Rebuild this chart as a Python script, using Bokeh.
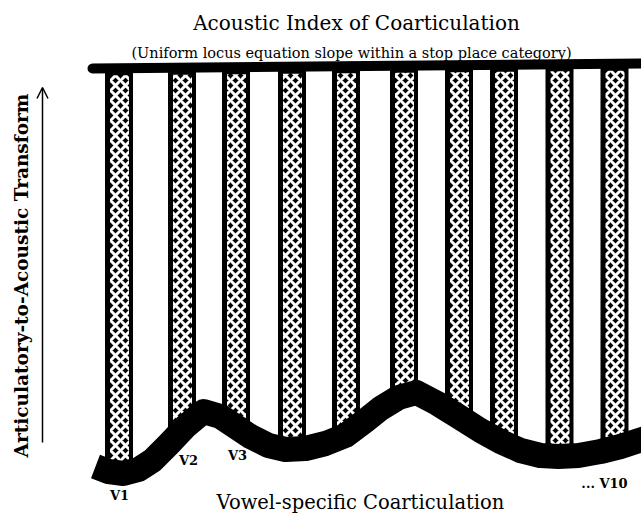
import numpy as np
from bokeh.plotting import figure
from bokeh.models import Range1d, Label, Arrow, OpenHead
from bokeh.embed import file_html
from bokeh.resources import INLINE

# ---- data (diagram coordinates, page pixels) ----
vowel_x = [118.5, 181.5, 235.5, 291.5, 345.5, 403.5, 458.5, 503.5, 559.0, 614.0]
vowel_labels = ["V1", "V2", "V3", "... V10"]
label_x = [119, 188, 237, 604]
label_y = [495, 460, 455, 483]

curve_x = [95, 108, 123, 138, 152, 168, 185, 203, 220, 235, 250, 268, 285, 305, 325,
           345, 365, 380, 398, 416, 437, 458, 480, 500, 520, 540, 558, 578, 600, 620, 645]
curve_y = [466, 471, 473, 469, 460, 444, 426, 411, 416, 426, 436, 445, 449, 448, 443,
           435, 420, 408, 397, 392, 403, 416, 430, 441, 450, 455, 456, 455, 451, 446, 438]

top_x = [92, 650]
top_y = [68, 63]

title = "Acoustic Index of Coarticulation"
subtitle = "(Uniform locus equation slope within a stop place category)"
xlabel = "Vowel-specific Coarticulation"
ylabel = "Articulatory-to-Acoustic Transform"

FONT = "DejaVu Serif"
BAR_W = 28
W, H = 641, 514

p = figure(width=W, height=H, output_backend="svg", toolbar_location=None,
           x_range=Range1d(0, W), y_range=Range1d(H, 0),
           x_axis_type=None, y_axis_type=None, min_border=0)
p.grid.visible = False
p.outline_line_color = None
p.background_fill_color = "white"

# bars hanging from top beam down to curve
bottoms = np.interp(vowel_x, curve_x, curve_y)
tops = np.interp(vowel_x, top_x, top_y)
vx = np.array(vowel_x)
p.quad(left=vx - BAR_W / 2, right=vx + BAR_W / 2, top=tops, bottom=bottoms,
       fill_color="black", line_color=None)
p.quad(left=vx - BAR_W / 2 + 5, right=vx + BAR_W / 2 - 4, top=tops + 7, bottom=bottoms,
       fill_color="black", line_color=None,
       hatch_pattern="diagonal_cross", hatch_color="white", hatch_scale=10, hatch_weight=3)

# top beam
p.line(top_x, top_y, line_width=10, line_color="black", line_cap="round")

# bottom curve
p.line(curve_x, curve_y, line_width=25, line_color="black", line_cap="butt", line_join="round")

# arrow
p.add_layout(Arrow(end=OpenHead(size=11, line_width=1.5, line_color="black"),
                   x_start=42, y_start=442, x_end=42, y_end=87,
                   line_width=1.5, line_color="black"))

# texts
p.add_layout(Label(x=356, y=22, text=title, text_font=FONT, text_font_size="20px",
                   text_align="center", text_baseline="middle", text_color="black"))
p.add_layout(Label(x=351, y=52, text=subtitle, text_font=FONT, text_font_size="14.5px",
                   text_align="center", text_baseline="middle", text_color="black"))
p.add_layout(Label(x=360, y=502, text=xlabel, text_font=FONT, text_font_size="19.5px",
                   text_align="center", text_baseline="middle", text_color="black"))
p.add_layout(Label(x=21, y=275, text=ylabel, text_font=FONT, text_font_size="18.5px",
                   text_font_style="bold", angle=np.pi / 2,
                   text_align="center", text_baseline="middle", text_color="black"))
for t, x, y in zip(vowel_labels, label_x, label_y):
    p.add_layout(Label(x=x, y=y, text=t, text_font=FONT, text_font_size="13px",
                       text_font_style="bold",
                       text_align="center", text_baseline="middle", text_color="black"))

open("out.html", "w").write(file_html(p, INLINE))
